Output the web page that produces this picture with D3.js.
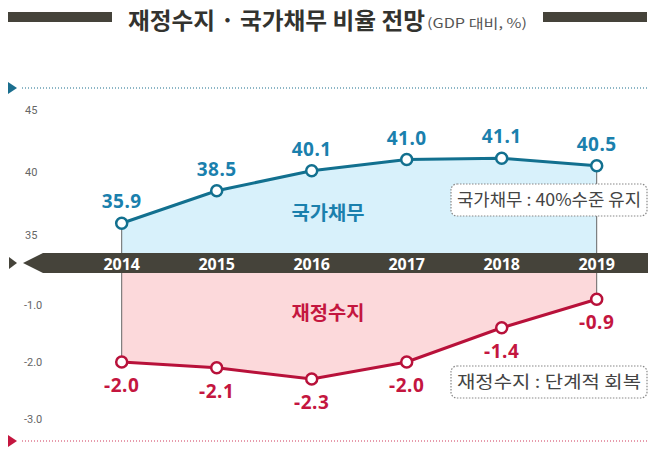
<!DOCTYPE html>
<html><head><meta charset="utf-8">
<script src="https://cdn.jsdelivr.net/npm/d3@7"></script>
<style>body{margin:0;background:#fff}svg{display:block}</style>
</head><body>
<svg id="c" width="660" height="462"></svg>
<script>
const years = ["2014","2015","2016","2017","2018","2019"];
const debt = [35.9, 38.5, 40.1, 41.0, 41.1, 40.5];
const balance = [-2.0, -2.1, -2.3, -2.0, -1.4, -0.9];
const debtTicks = [45, 40, 35];
const balanceTicks = [-1.0, -2.0, -3.0];
const title = "재정수지 · 국가채무 비율 전망";
const subtitle = "(GDP 대비, %)";
const debtName = "국가채무";
const balName = "재정수지";
const debtNote = "국가채무 : 40%수준 유지";
const balNote = "재정수지 : 단계적 회복";

const svg = d3.select("#c");
const KR = "'Noto Sans CJK KR','Noto Sans',sans-serif";
const blueLine = "#12708f", blueText = "#1a80ad", blueFill = "#d8f1fb";
const redLine = "#b8113a", redText = "#c4163f", redFill = "#fcd9db";
const bandC = "#45433a";

const x = d3.scalePoint().domain(years).range([121.7, 596.7]);
const yTop = d3.scaleLinear().domain([35, 45]).range([234.5, 109.5]);
const yBot = d3.scaleLinear().domain([-3, -1]).range([419, 305]);
const bandTop = 253, bandBot = 273;

// title
svg.append("rect").attr("x",8).attr("y",12).attr("width",104).attr("height",10).attr("fill",bandC);
svg.append("rect").attr("x",543).attr("y",12).attr("width",104).attr("height",10).attr("fill",bandC);
svg.append("text").attr("x",128).attr("y",29).attr("font-family",KR).attr("font-weight",700)
  .attr("font-size",23).attr("fill","#33332f").attr("textLength",297).attr("lengthAdjust","spacingAndGlyphs").text(title);
svg.append("text").attr("x",427).attr("y",28).attr("font-family",KR).attr("font-weight",400)
  .attr("font-size",13).attr("fill","#555").attr("textLength",100).attr("lengthAdjust","spacingAndGlyphs").text(subtitle);

// dotted guide lines
svg.append("path").attr("d","M8,82L17,88L8,94Z").attr("fill","#1a6e8e");
svg.append("line").attr("x1",22).attr("x2",648).attr("y1",88).attr("y2",88)
  .attr("stroke","#1a6e8e").attr("stroke-width",1.2).attr("stroke-dasharray","1,2");
svg.append("path").attr("d","M8,435L17,441L8,447Z").attr("fill","#c4163f");
svg.append("line").attr("x1",22).attr("x2",648).attr("y1",441).attr("y2",441)
  .attr("stroke","#d0385a").attr("stroke-width",1.2).attr("stroke-dasharray","1,2");

// areas
const xs = (d,i)=>x(years[i]);
svg.append("path").datum(debt).attr("fill",blueFill)
  .attr("d", d3.area().x(xs).y0(bandTop).y1(d=>yTop(d)));
svg.append("path").datum(balance).attr("fill",redFill)
  .attr("d", d3.area().x(xs).y0(bandBot).y1(d=>yBot(d)));

// edge verticals
[0, years.length-1].forEach(i=>{
  svg.append("line").attr("x1",x(years[i])).attr("x2",x(years[i])).attr("y1",yTop(debt[i])).attr("y2",bandTop)
    .attr("stroke","#666").attr("stroke-width",1);
  svg.append("line").attr("x1",x(years[i])).attr("x2",x(years[i])).attr("y1",bandBot).attr("y2",yBot(balance[i]))
    .attr("stroke","#666").attr("stroke-width",1);
});

// band
svg.append("path").attr("d",`M9,257L17,263L9,269Z`).attr("fill",bandC);
svg.append("path").attr("d",`M23,263L43,${bandTop}L648,${bandTop}L648,${bandBot}L43,${bandBot}Z`).attr("fill",bandC);
svg.selectAll(".yr").data(years).join("text").attr("x",d=>x(d)).attr("y",270)
  .attr("text-anchor","middle").attr("font-family","'Noto Sans',sans-serif").attr("font-weight",700)
  .attr("font-size",16).attr("fill","#fff").text(d=>d);

// tick labels
svg.selectAll(".tt").data(debtTicks).join("text").attr("x",25).attr("y",d=>yTop(d)+4)
  .attr("font-family","Roboto,sans-serif").attr("font-size",11).attr("fill","#666").text(d=>d);
svg.selectAll(".tb").data(balanceTicks).join("text").attr("x",24).attr("y",d=>yBot(d)+4)
  .attr("font-family","Roboto,sans-serif").attr("font-size",11).attr("fill","#666").text(d=>d.toFixed(1));

// series names
svg.append("text").attr("x",328).attr("y",220).attr("text-anchor","middle").attr("font-family",KR)
  .attr("font-weight",700).attr("font-size",19).attr("textLength",73).attr("lengthAdjust","spacingAndGlyphs")
  .attr("fill",blueText).text(debtName);
svg.append("text").attr("x",328).attr("y",320).attr("text-anchor","middle").attr("font-family",KR)
  .attr("font-weight",700).attr("font-size",19).attr("textLength",73).attr("lengthAdjust","spacingAndGlyphs")
  .attr("fill",redText).text(balName);

// note boxes
function note(y, t){
  svg.append("rect").attr("x",451).attr("y",y).attr("width",196).attr("height",32).attr("rx",6)
    .attr("fill","#fff").attr("stroke","#888").attr("stroke-width",1.2).attr("stroke-dasharray","1.5,1.5");
  svg.append("text").attr("x",549).attr("y",y+22).attr("text-anchor","middle").attr("font-family",KR)
    .attr("font-size",17).attr("fill","#444").attr("textLength",184).attr("lengthAdjust","spacingAndGlyphs").text(t);
}
note(184, debtNote);
note(366, balNote);

// lines
svg.append("path").datum(debt).attr("fill","none").attr("stroke",blueLine).attr("stroke-width",3)
  .attr("d", d3.line().x(xs).y(d=>yTop(d)));
svg.append("path").datum(balance).attr("fill","none").attr("stroke",redLine).attr("stroke-width",3)
  .attr("d", d3.line().x(xs).y(d=>yBot(d)));
svg.selectAll(".cd").data(debt).join("circle").attr("cx",xs).attr("cy",d=>yTop(d)).attr("r",5.5)
  .attr("fill","#fff").attr("stroke",blueLine).attr("stroke-width",2.5);
svg.selectAll(".cb").data(balance).join("circle").attr("cx",xs).attr("cy",d=>yBot(d)).attr("r",5.5)
  .attr("fill","#fff").attr("stroke",redLine).attr("stroke-width",2.5);

// value labels
svg.selectAll(".vd").data(debt).join("text").attr("x",xs).attr("y",d=>yTop(d)-15)
  .attr("text-anchor","middle").attr("font-family","'Noto Sans',sans-serif").attr("font-weight",700)
  .attr("font-size",19).attr("letter-spacing",0.5).attr("fill",blueText).text(d=>d.toFixed(1));
svg.selectAll(".vb").data(balance).join("text").attr("x",xs).attr("y",d=>yBot(d)+30)
  .attr("text-anchor","middle").attr("font-family","'Noto Sans',sans-serif").attr("font-weight",700)
  .attr("font-size",19).attr("letter-spacing",0.5).attr("fill",redText).text(d=>d.toFixed(1));
</script>
</body></html>
